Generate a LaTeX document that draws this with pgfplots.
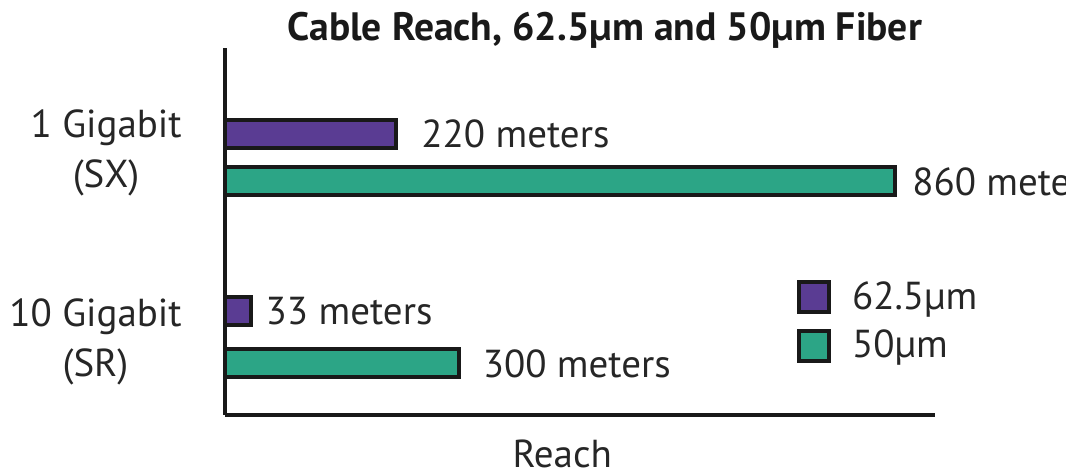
\documentclass[border=0pt]{standalone}
\usepackage{fontspec}
\setmainfont{PT Sans}
\usepackage{pgfplots}
\pgfplotsset{compat=1.18}
\definecolor{purp}{HTML}{5A3C93}
\definecolor{teal2}{HTML}{2CA586}
\newcommand{\lblfont}{\fontsize{19.5}{25}\selectfont}
\begin{document}
\begin{tikzpicture}
\begin{axis}[
  name=ax, at={(0,0)}, anchor=south west,
  scale only axis, width=355pt, height=183.5pt,
  xmin=0, xmax=911, ymin=-415, ymax=-48,
  axis x line=bottom, axis y line=left,
  axis line style={-, line width=2pt, color=black!90},
  xtick=\empty,
  ytick={-153,-341.5},
  yticklabels={{1 Gigabit\\(SX)},{10 Gigabit\\(SR)}},
  major tick length=0pt,
  yticklabel style={align=center, anchor=east, inner sep=0pt, xshift=-21.5pt, font=\lblfont, text=black!85},
  clip=false,
  /pgf/number format/assume math mode=true,
  title={\textbf{Cable Reach, 62.5µm and 50µm Fiber}},
  title style={at={(0.535,1)}, anchor=base, yshift=-2.5pt, font=\fontsize{19.8}{22}\selectfont, text=black!90},
  xlabel={Reach},
  xlabel style={at={(0.475,0)}, anchor=base, yshift=-26.5pt, font=\lblfont, text=black!85},
  legend style={draw=none, fill=none, at={(axis cs:733.5,-277)}, anchor=north west, inner sep=0pt, font=\lblfont, text=black!85, row sep=5pt},
  legend cell align=left,
  nodes near coords={\pgfmathprintnumber{\pgfplotspointmeta}~meters},
  point meta=x,
  every node near coord/.append style={font=\lblfont, text=black!85, anchor=west, inner sep=0pt},
]
\addplot[xbar, bar shift=0, bar width=28, fill=purp, draw=black!90, line width=2pt,
  every node near coord/.append style={xshift=11.5pt},
  legend image code/.code={\draw[fill=purp, draw=black!90, line width=2pt] (0pt,-7.5pt) rectangle (15pt,7.5pt); \path[draw=none, fill=none] (0pt,0pt) -- (24.5pt,0pt);}]
  coordinates {(220,-134)};
\addlegendentry{62.5µm}
\addplot[xbar, bar shift=0, bar width=28, fill=teal2, draw=black!90, line width=2pt,
  every node near coord/.append style={xshift=7.5pt},
  legend image code/.code={\draw[fill=teal2, draw=black!90, line width=2pt] (0pt,-7.5pt) rectangle (15pt,7.5pt); \path[draw=none, fill=none] (0pt,0pt) -- (24.5pt,0pt);}]
  coordinates {(860,-181.5)};
\addlegendentry{50µm}
\addplot[xbar, bar shift=0, bar width=28, fill=purp, draw=black!90, line width=2pt, forget plot,
  every node near coord/.append style={xshift=6.5pt}]
  coordinates {(33,-311)};
\addplot[xbar, bar shift=0, bar width=28, fill=teal2, draw=black!90, line width=2pt, forget plot,
  every node near coord/.append style={xshift=11pt}]
  coordinates {(300,-363.5)};
\end{axis}
\pgfresetboundingbox
\path[use as bounding box] (-112.5pt,-30.5pt) rectangle (420.5pt,207.5pt);
\end{tikzpicture}
\end{document}
